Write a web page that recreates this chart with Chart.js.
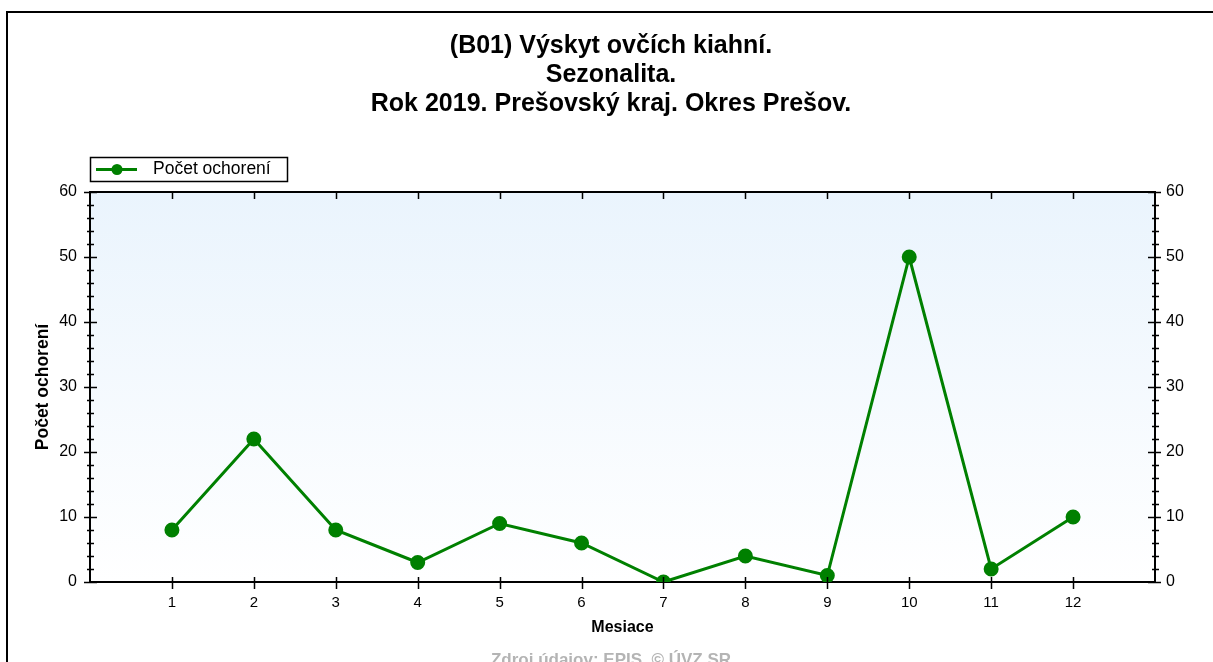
<!DOCTYPE html>
<html>
<head>
<meta charset="utf-8">
<script src="https://cdn.jsdelivr.net/npm/chart.js@4.4.1/dist/chart.umd.min.js"></script>
<style>
html,body{margin:0;padding:0;background:#fff;}
canvas{display:block;}
</style>
</head>
<body>
<canvas id="c" width="1213" height="662"></canvas>
<script>
const titleLines = ["(B01) Výskyt ovčích kiahní.", "Sezonalita.", "Rok 2019. Prešovský kraj. Okres Prešov."];
const months = [1, 2, 3, 4, 5, 6, 7, 8, 9, 10, 11, 12];
const cases = [8, 22, 8, 3, 9, 6, 0, 4, 1, 50, 2, 10];
const seriesLabel = "Počet ochorení";
const xAxisTitle = "Mesiace";
const yAxisTitle = "Počet ochorení";
const footerText = "Zdroj údajov: EPIS, © ÚVZ SR";
const yTicks = [0, 10, 20, 30, 40, 50, 60];

const FONT = "'Liberation Sans', Arial, sans-serif";
const GREEN = "#008000";

const decor = {
  id: 'decor',
  beforeDraw(chart) {
    const ctx = chart.ctx;
    const a = chart.chartArea;
    ctx.save();
    ctx.fillStyle = '#fff';
    ctx.fillRect(0, 0, chart.width, chart.height);
    const g = ctx.createLinearGradient(0, a.top, 0, a.bottom);
    g.addColorStop(0, '#eaf4fd');
    g.addColorStop(1, '#ffffff');
    ctx.fillStyle = g;
    ctx.fillRect(a.left, a.top, a.right - a.left, a.bottom - a.top);
    // outer frame
    ctx.strokeStyle = '#000';
    ctx.lineWidth = 2;
    ctx.beginPath();
    ctx.moveTo(7, chart.height);
    ctx.lineTo(7, 12);
    ctx.lineTo(chart.width, 12);
    ctx.stroke();
    // title
    ctx.fillStyle = '#000';
    ctx.font = "bold 25px " + FONT;
    ctx.textAlign = 'center';
    ctx.textBaseline = 'middle';
    titleLines.forEach((t, i) => ctx.fillText(t, 611, 46 + i * 29));
    // footer
    ctx.fillStyle = '#b4b4b4';
    ctx.font = "bold 17px " + FONT;
    ctx.fillText(footerText, 611, 660);
    ctx.restore();
  },
  afterDraw(chart) {
    const ctx = chart.ctx;
    const a = chart.chartArea;
    const y = chart.scales.y, x = chart.scales.x;
    ctx.save();
    ctx.strokeStyle = '#000';
    ctx.lineWidth = 1.5;
    ctx.beginPath();
    for (let v = y.min; v <= y.max; v += 2) {
      const py = Math.round(y.getPixelForValue(v)) + 0.5;
      const major = v % 10 === 0;
      if (major) {
        ctx.moveTo(a.left - 6, py); ctx.lineTo(a.left + 7, py);
        ctx.moveTo(a.right - 7, py); ctx.lineTo(a.right + 6, py);
      } else {
        ctx.moveTo(a.left - 3, py); ctx.lineTo(a.left + 4, py);
        ctx.moveTo(a.right - 3, py); ctx.lineTo(a.right + 4, py);
      }
    }
    months.forEach(m => {
      const px = Math.round(x.getPixelForValue(m)) + 0.5;
      ctx.moveTo(px, a.bottom - 5); ctx.lineTo(px, a.bottom + 7);
      ctx.moveTo(px, a.top); ctx.lineTo(px, a.top + 7);
    });
    ctx.stroke();
    // legend
    ctx.lineWidth = 1.5;
    ctx.strokeRect(90.5, 157.5, 197, 24);
    ctx.strokeStyle = GREEN;
    ctx.lineWidth = 3;
    ctx.beginPath();
    ctx.moveTo(96, 169.5); ctx.lineTo(137, 169.5);
    ctx.stroke();
    ctx.fillStyle = GREEN;
    ctx.beginPath();
    ctx.arc(117, 169.5, 5.5, 0, Math.PI * 2);
    ctx.fill();
    ctx.fillStyle = '#000';
    ctx.font = "17.5px " + FONT;
    ctx.textAlign = 'left';
    ctx.textBaseline = 'middle';
    ctx.fillText(chart.data.datasets[0].label, 153, 169.5);
    ctx.restore();
  }
};

new Chart(document.getElementById('c'), {
  type: 'line',
  data: {
    datasets: [{
      label: seriesLabel,
      data: months.map((m, i) => ({ x: m, y: cases[i] })),
      borderColor: GREEN,
      backgroundColor: GREEN,
      borderWidth: 3,
      pointRadius: 6,
      pointHoverRadius: 6,
      pointBackgroundColor: GREEN,
      pointBorderColor: GREEN,
      tension: 0,
      xAxisID: 'x',
      yAxisID: 'y'
    }]
  },
  options: {
    responsive: false,
    devicePixelRatio: 1,
    animation: false,
    layout: { padding: 0 },
    plugins: { legend: { display: false }, title: { display: false }, tooltip: { enabled: false } },
    scales: {
      x: {
        type: 'linear', position: 'bottom', min: 0, max: 13,
        afterFit(s) { s.height = 80; },
        grid: { display: false, drawTicks: false },
        border: { display: true, color: '#000', width: 2 },
        ticks: {
          stepSize: 1, autoSkip: false, maxRotation: 0, padding: 12, color: '#000', font: { family: FONT, size: 15 },
          callback: v => (v >= 1 && v <= 12 ? String(v) : '')
        },
        title: { display: true, text: xAxisTitle, color: '#000', font: { family: FONT, size: 16, weight: 'bold' }, padding: { top: 0, bottom: 25 } }
      },
      xTop: {
        type: 'linear', position: 'top', min: 0, max: 13,
        afterFit(s) { s.height = 192; },
        grid: { display: false, drawTicks: false },
        border: { display: true, color: '#000', width: 2 },
        ticks: { display: false }
      },
      y: {
        type: 'linear', position: 'left', min: 0, max: 60,
        afterFit(s) { s.width = 90; },
        grid: { display: false, drawTicks: false },
        border: { display: true, color: '#000', width: 2 },
        ticks: { stepSize: 10, padding: 13, color: '#000', font: { family: FONT, size: 16 } },
        title: { display: true, text: yAxisTitle, color: '#000', font: { family: FONT, size: 17.5, weight: 'bold' }, padding: { top: 33, bottom: 0 } }
      },
      y2: {
        type: 'linear', position: 'right', min: 0, max: 60,
        afterFit(s) { s.width = 58; },
        grid: { display: false, drawTicks: false },
        border: { display: true, color: '#000', width: 2 },
        ticks: { stepSize: 10, padding: 11, color: '#000', font: { family: FONT, size: 16 } }
      }
    }
  },
  plugins: [decor]
});
</script>
</body>
</html>
